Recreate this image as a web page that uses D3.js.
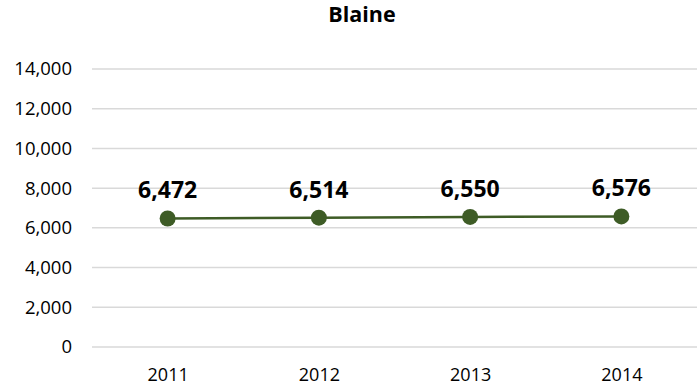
<!DOCTYPE html>
<html>
<head>
<meta charset="utf-8">
<script src="https://cdn.jsdelivr.net/npm/d3@7"></script>
<style>
  body { margin: 0; background: #fff; }
  text { font-family: "Open Sans", sans-serif; }
</style>
</head>
<body>
<div class="canvas"></div>
<script>
const years = ['2011', '2012', '2013', '2014'];
const population = [6472, 6514, 6550, 6576];
const yTicks = [0, 2000, 4000, 6000, 8000, 10000, 12000, 14000];

const width = 700;
const height = 389;
const margin = {top: 69, right: 3, bottom: 42, left: 92};
const graphWidth = width - margin.left - margin.right;
const graphHeight = height - margin.top - margin.bottom;

const svg = d3.select('.canvas')
  .append('svg')
  .attr('width', width)
  .attr('height', height);

const graph = svg.append('g')
  .attr('transform', `translate(${margin.left},${margin.top})`);

const x = d3.scalePoint()
  .domain(years)
  .range([0, graphWidth])
  .padding(0.5);

const y = d3.scaleLinear()
  .domain([0, 14000])
  .range([graphHeight, 0]);

// gridlines
graph.selectAll('line.grid')
  .data(yTicks)
  .enter()
  .append('line')
    .attr('class', 'grid')
    .attr('x1', 0)
    .attr('x2', graphWidth)
    .attr('y1', d => y(d))
    .attr('y2', d => y(d))
    .attr('stroke', '#d9d9d9')
    .attr('stroke-width', 1.5);

// y axis labels
const yAxis = d3.axisLeft(y)
  .tickValues(yTicks)
  .tickSize(0)
  .tickPadding(20)
  .tickFormat(d3.format(','));
const yAxisGroup = graph.append('g').call(yAxis);
yAxisGroup.select('.domain').remove();
yAxisGroup.selectAll('text')
  .attr('font-family', '"Open Sans", sans-serif')
  .attr('font-size', '18.5px')
  .attr('fill', '#000');

// x axis labels
const xAxis = d3.axisBottom(x).tickSize(0).tickPadding(21);
const xAxisGroup = graph.append('g')
  .attr('transform', `translate(0, ${graphHeight})`)
  .call(xAxis);
xAxisGroup.select('.domain').remove();
xAxisGroup.selectAll('text')
  .attr('font-family', '"Open Sans", sans-serif')
  .attr('font-size', '18px')
  .attr('fill', '#000');

const data = years.map((yr, i) => ({year: yr, value: population[i]}));

const line = d3.line()
  .x(d => x(d.year))
  .y(d => y(d.value));

graph.append('path')
  .datum(data)
  .attr('d', line)
  .attr('fill', 'none')
  .attr('stroke', '#3e5c26')
  .attr('stroke-width', 2.5);

graph.selectAll('circle')
  .data(data)
  .enter()
  .append('circle')
    .attr('cx', d => x(d.year))
    .attr('cy', d => y(d.value))
    .attr('r', 8)
    .attr('fill', '#3e5c26');

graph.selectAll('text.label')
  .data(data)
  .enter()
  .append('text')
    .attr('class', 'label')
    .attr('x', d => x(d.year))
    .attr('y', d => y(d.value) - 20)
    .attr('text-anchor', 'middle')
    .attr('font-size', '23px')
    .attr('font-weight', 'bold')
    .attr('fill', '#000')
    .text(d => d3.format(',')(d.value));

// title
svg.append('text')
  .attr('x', 362)
  .attr('y', 22)
  .attr('text-anchor', 'middle')
  .attr('font-size', '21.5px')
  .attr('font-weight', 'bold')
  .text('Blaine');
</script>
</body>
</html>
